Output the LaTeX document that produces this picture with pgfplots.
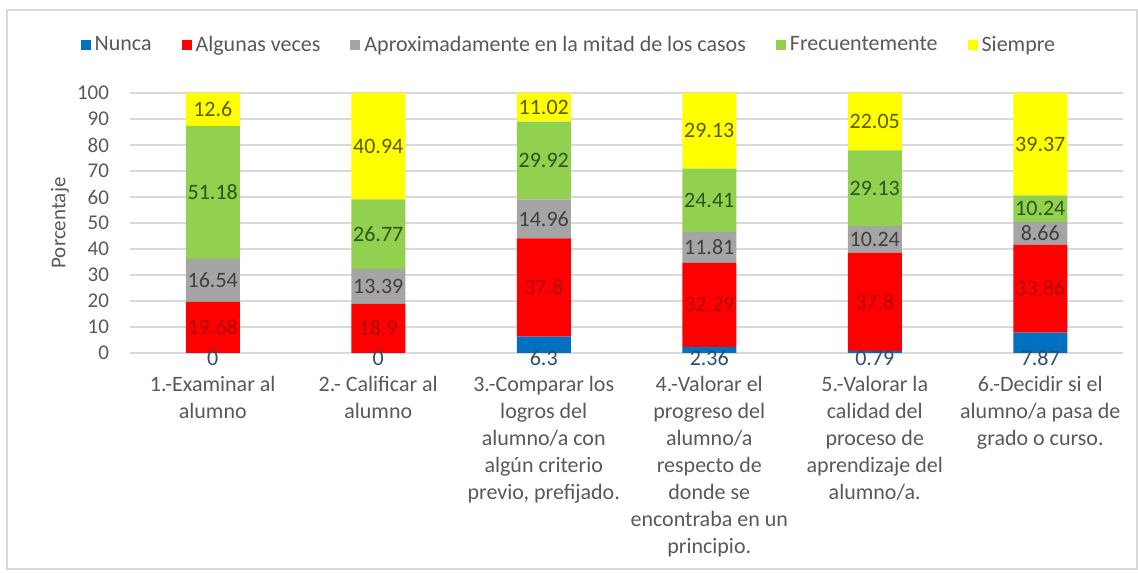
\documentclass[border=0pt]{standalone}
\usepackage{pgfplots}
\pgfplotsset{compat=1.18}
\usepackage{fontspec}
\setmainfont{Carlito}
\definecolor{cNunca}{HTML}{0070C0}
\definecolor{cAlg}{HTML}{FF0000}
\definecolor{cAprox}{HTML}{A5A5A5}
\definecolor{cFrec}{HTML}{92D050}
\definecolor{cSiem}{HTML}{FFFF00}
\definecolor{txt}{HTML}{595959}
\definecolor{lNunca}{HTML}{2F4F6F}
\definecolor{lAlg}{HTML}{B00000}
\definecolor{lAprox}{HTML}{404040}
\definecolor{lFrec}{HTML}{2E5518}
\definecolor{lSiem}{HTML}{5A5A00}
\definecolor{gridc}{HTML}{D9D9D9}
\pgfplotsset{
  common/.style={at={(65pt,109.5pt)}, anchor=south west,
    scale only axis, width=496.5pt, height=130pt,
    xmin=-0.5, xmax=5.5, ymin=0, ymax=100},
  lab/.style={only marks, mark=none, nodes near coords, point meta=explicit symbolic,
    nodes near coords style={font=\fontsize{11}{13}\selectfont, text=#1, anchor=center, inner sep=0.5pt}},
}
\begin{document}
\begin{tikzpicture}[x=1pt,y=1pt]
\path[use as bounding box] (0,0) rectangle (569,286);
\draw[gridc, line width=0.6pt] (3.5,1.5) rectangle (568.5,281);
\begin{axis}[
  common,
  ybar stacked, bar width=27pt,
  ytick={0,10,...,100},
  xtick={0,1,2,3,4,5},
  xticklabels={
    {1.-Examinar al\\alumno},
    {2.- Calificar al\\alumno},
    {3.-Comparar los\\logros del\\alumno/a con\\algún criterio\\previo, prefijado.},
    {4.-Valorar el\\progreso del\\alumno/a\\respecto de\\donde se\\encontraba en un\\principio.},
    {5.-Valorar la\\calidad del\\proceso de\\aprendizaje del\\alumno/a.},
    {6.-Decidir si el\\alumno/a pasa de\\grado o curso.}},
  ymajorgrids, grid style={gridc, line width=0.6pt},
  axis line style={draw=none},
  major tick length=0pt,
  /pgf/number format/assume math mode=true,
  tick label style={font=\fontsize{10.5}{12}\selectfont, text=txt},
  xticklabel style={align=center, font=\fontsize{11}{13.5}\selectfont, yshift=-8pt},
  yticklabel style={xshift=-7pt},
  ylabel={Porcentaje},
  ylabel style={font=\fontsize{10.5}{12}\selectfont, text=txt, at={(axis description cs:-0.0705,0.5)}, anchor=center},
  legend style={at={(axis description cs:0.443,1)}, anchor=center, yshift=24pt, draw=none,
    font=\fontsize{11}{13}\selectfont, text=txt,
    /tikz/every even column/.append style={column sep=13pt}},
  legend columns=5,
  legend image code/.code={\path[#1, draw=none] (0pt,-2.5pt) rectangle (5pt,2.5pt);},
]
\addplot[fill=cNunca, draw=none] coordinates {(0,0) (1,0) (2,6.3) (3,2.36) (4,0.79) (5,7.87)};
\addplot[fill=cAlg, draw=none] coordinates {(0,19.68) (1,18.9) (2,37.8) (3,32.29) (4,37.8) (5,33.86)};
\addplot[fill=cAprox, draw=none] coordinates {(0,16.54) (1,13.39) (2,14.96) (3,11.81) (4,10.24) (5,8.66)};
\addplot[fill=cFrec, draw=none] coordinates {(0,51.18) (1,26.77) (2,29.92) (3,24.41) (4,29.13) (5,10.24)};
\addplot[fill=cSiem, draw=none] coordinates {(0,12.6) (1,40.94) (2,11.02) (3,29.13) (4,22.05) (5,39.37)};
\legend{Nunca, Algunas veces, Aproximadamente en la mitad de los casos, Frecuentemente, Siempre}
\end{axis}
\begin{axis}[common, hide axis, clip=false]
% labels at the middle of each segment (cumulative midpoints of the values above)
\addplot[lab=lNunca, nodes near coords style={yshift=-2.5pt}] coordinates {(0,0) [0] (1,0) [0] (2,0) [6.3] (3,0) [2.36] (4,0) [0.79] (5,0) [7.87]};
\addplot[lab=lAlg] coordinates {(0,9.84) [19.68] (1,9.45) [18.9] (2,25.2) [37.8] (3,18.505) [32.29] (4,19.69) [37.8] (5,24.8) [33.86]};
\addplot[lab=lAprox] coordinates {(0,27.95) [16.54] (1,25.595) [13.39] (2,51.58) [14.96] (3,40.555) [11.81] (4,43.71) [10.24] (5,46.06) [8.66]};
\addplot[lab=lFrec] coordinates {(0,61.81) [51.18] (1,45.675) [26.77] (2,74.02) [29.92] (3,58.665) [24.41] (4,63.395) [29.13] (5,55.51) [10.24]};
\addplot[lab=lSiem] coordinates {(0,93.7) [12.6] (1,79.53) [40.94] (2,94.49) [11.02] (3,85.435) [29.13] (4,88.985) [22.05] (5,80.315) [39.37]};
\end{axis}
\end{tikzpicture}
\end{document}
